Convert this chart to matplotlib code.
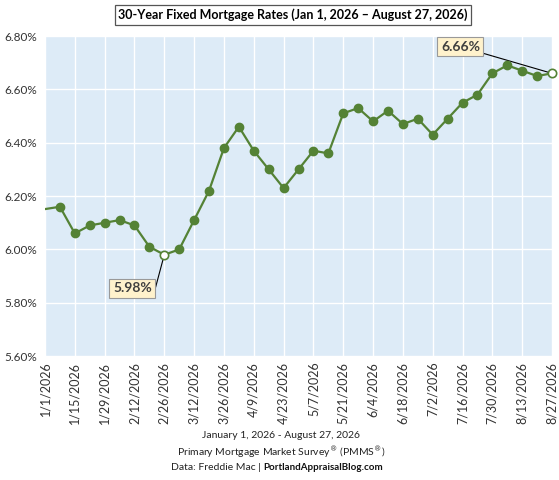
import matplotlib.pyplot as plt
import datetime as dt

plt.rcParams['font.family'] = ['Lato', 'DejaVu Sans']

# weekly Freddie Mac PMMS readings
dates = ['2025-12-31', '2026-01-08', '2026-01-15', '2026-01-22', '2026-01-29',
         '2026-02-05', '2026-02-12', '2026-02-19', '2026-02-26', '2026-03-05',
         '2026-03-12', '2026-03-19', '2026-03-26', '2026-04-02', '2026-04-09',
         '2026-04-16', '2026-04-23', '2026-04-30', '2026-05-07', '2026-05-14',
         '2026-05-21', '2026-05-28', '2026-06-04', '2026-06-11', '2026-06-18',
         '2026-06-25', '2026-07-02', '2026-07-09', '2026-07-16', '2026-07-23',
         '2026-07-30', '2026-08-06', '2026-08-13', '2026-08-20', '2026-08-27']
rates = [6.15, 6.16, 6.06, 6.09, 6.10, 6.11, 6.09, 6.01, 5.98, 6.00,
         6.11, 6.22, 6.38, 6.46, 6.37, 6.30, 6.23, 6.30, 6.37, 6.36,
         6.51, 6.53, 6.48, 6.52, 6.47, 6.49, 6.43, 6.49, 6.55, 6.58,
         6.66, 6.69, 6.67, 6.65, 6.66]
yticks = [5.60, 5.80, 6.00, 6.20, 6.40, 6.60, 6.80]
low_date, low_rate = '2026-02-26', 5.98
last_date, last_rate = '2026-08-27', 6.66

green = '#548235'
x = [dt.datetime.strptime(d, '%Y-%m-%d') for d in dates]

fig = plt.figure(figsize=(5.59, 4.80), dpi=100)
ax = fig.add_axes([0.0805, 0.258, 0.907, 0.667])
ax.set_facecolor('#DDEBF7')

ax.plot(x, rates, color=green, lw=1.6, zorder=3)
solid = [i for i, d in enumerate(dates) if d not in (low_date, last_date) and i > 0]
ax.plot([x[i] for i in solid], [rates[i] for i in solid], 'o', color=green,
        ms=6, zorder=4)
for d, r in [(low_date, low_rate), (last_date, last_rate)]:
    xd = dt.datetime.strptime(d, '%Y-%m-%d')
    ax.plot([xd], [r], 'o', mfc='white', mec=green, mew=1.2, ms=6, zorder=5,
            clip_on=False)

start = dt.datetime(2026, 1, 1)
ticks = [start + dt.timedelta(days=14 * k) for k in range(18)]
ax.set_xlim(ticks[0], ticks[-1])
ax.set_xticks(ticks)
ax.set_xticklabels([f'{t.month}/{t.day}/{t.year}' for t in ticks], rotation=90,
                   fontsize=9, color='#333333')
ax.set_ylim(5.60, 6.80)
ax.set_yticks(yticks)
ax.set_yticklabels([f'{v:.2f}%' for v in yticks], fontsize=8.5, color='#333333')
ax.tick_params(length=0, pad=4)
ax.tick_params(axis='y', pad=6)
ax.grid(color='white', lw=1)
ax.set_axisbelow(True)
for s in ax.spines.values():
    s.set_visible(False)

box = dict(boxstyle='square,pad=0.25', fc='#FFF2CC', ec='#999999', lw=0.8)
ax.annotate(f'{low_rate:.2f}%', xy=(dt.datetime(2026, 2, 26), low_rate),
            xytext=(dt.datetime(2026, 2, 11), 5.855), fontsize=10, fontweight='bold',
            color='#404040', ha='center', va='center', bbox=box,
            arrowprops=dict(arrowstyle='-', color='black', lw=0.8,
                            connectionstyle='angle,angleA=0,angleB=75,rad=0',
                            shrinkA=0, shrinkB=3))
ax.annotate(f'{last_rate:.2f}%', xy=(dt.datetime(2026, 8, 27), last_rate),
            xytext=(dt.datetime(2026, 7, 15), 6.76), fontsize=10, fontweight='bold',
            color='#404040', ha='center', va='center', bbox=box,
            arrowprops=dict(arrowstyle='-', color='black', lw=0.8,
                            shrinkA=0, shrinkB=3), annotation_clip=False)

fig.text(0.524, 0.969, '30-Year Fixed Mortgage Rates (Jan 1, 2026 \u2013 August 27, 2026)',
         ha='center', va='center', fontsize=9.0, fontweight='bold',
         bbox=dict(boxstyle='square,pad=0.28', fc='white', ec='#555555', lw=0.9))
fig.text(0.503, 0.092, 'January 1, 2026 - August 27, 2026', ha='center',
         va='center', fontsize=7.5, color='#222222')
fig.text(0.503, 0.058, 'Primary Mortgage Market Survey$^{\u00ae}$ (PMMS$^{\u00ae}$)',
         ha='center', va='center', fontsize=7.5, color='#222222')
fig.text(0.471, 0.025, 'Data: Freddie Mac | ', ha='right', va='center',
         fontsize=7.5, color='#222222')
fig.text(0.471, 0.025, 'PortlandAppraisalBlog.com', ha='left', va='center',
         fontsize=7.0, fontweight='bold', color='#111111')

fig.savefig('out.png', dpi=100)
